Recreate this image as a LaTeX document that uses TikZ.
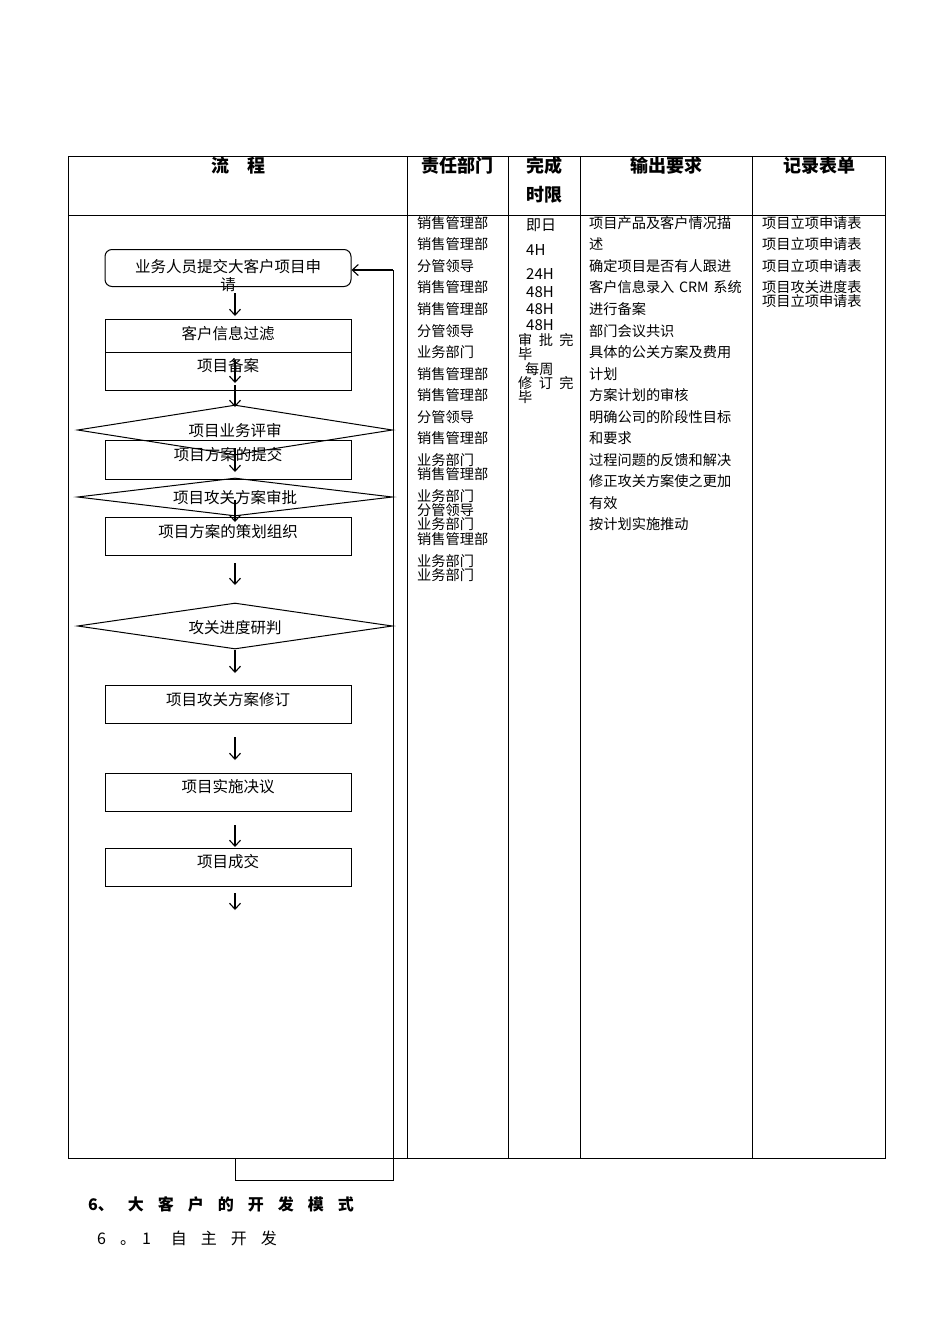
\documentclass[tikz,border=0pt]{standalone}
\usepackage{fontspec}
\setmainfont{Noto Sans CJK SC}
\usetikzlibrary{shapes.geometric,arrows.meta}
\begin{document}
\begin{tikzpicture}[x=1pt,y=-1pt,
  ln/.style={line width=0.8pt},
  ft/.style={font=\fontsize{15.5}{15.5}\selectfont},
  box/.style={draw,line width=1pt,minimum width=246pt,inner sep=0pt},
  dia/.style={draw,line width=1pt,diamond,aspect=6.5,minimum width=315pt,minimum height=50pt,inner sep=0pt},
  arr/.style={line width=1.1pt,-{Straight Barb[length=6pt,width=11pt]}},
  hd/.style={font=\bfseries\fontsize{18}{18}\selectfont},
  ct/.style={anchor=west,inner sep=0pt,font=\fontsize{14.2}{14.2}\selectfont},
  bt/.style={anchor=west,inner sep=0pt,font=\fontsize{16}{16}\selectfont}]
\useasboundingbox (0,0) rectangle (950,1344);
% table
\draw[ln] (68,156) rectangle (885,1158);
\draw[ln] (68,215) -- (885,215);
\foreach \x in {407,508,580,752} \draw[ln] (\x,156) -- (\x,1158);
\node[hd] (h1) at (238,166) {流\quad 程};
\node[hd] (h2) at (457,166) {责任部门};
\node[hd] (h3) at (544,166) {完成};
\node[hd] (h3b) at (544,195) {时限};
\node[hd] (h4) at (666,166) {输出要求};
\node[hd] (h5) at (819,166) {记录表单};
% flow
\node[box,rounded corners=7pt,minimum height=37pt] (s) at (228,268) {};
\node[ft] (st) at (228,267) {业务人员提交大客户项目申};
\node[ft] (st2) at (228,285) {请};
\node[box,minimum height=33pt] (b1) at (228,335.5) {};
\node[box,minimum height=38pt] (b2) at (228,371) {};
\node[ft] (t1) at (228,334) {客户信息过滤};
\node[ft] (t2) at (228,366) {项目备案};
\node[box,minimum height=39pt] (b3) at (228,459.5) {};
\node[dia] (d1) at (235,430) {};
\node[ft] (td1) at (235,431) {项目业务评审};
\node[ft] (t3) at (228,455) {项目方案的提交};
\node[dia,minimum height=38pt] (d2) at (235,497) {};
\node[ft] (td2) at (235,498) {项目攻关方案审批};
\node[box,minimum height=38pt,fill=white] (b4) at (228,536) {};
\node[ft] (t4) at (228,532) {项目方案的策划组织};
\node[dia,minimum height=46pt] (d3) at (235,626) {};
\node[ft] (td3) at (235,628) {攻关进度研判};
\node[box,minimum height=38pt] (b5) at (228,704.5) {};
\node[ft] (t5) at (228,700) {项目攻关方案修订};
\node[box,minimum height=38pt] (b6) at (228,792) {};
\node[ft] (t6) at (228,787) {项目实施决议};
\node[box,minimum height=38pt] (b7) at (228,867) {};
\node[ft] (t7) at (228,862) {项目成交};
\coordinate (a1) at (235,293); \coordinate (a1e) at (235,316);
\draw[arr] (a1) -- (a1e);
\draw[arr] (235,360) -- (235,383);
\draw[arr] (235,385) -- (235,407);
\draw[arr] (235,448) -- (235,472);
\draw[arr] (235,500) -- (235,522);
\draw[arr] (235,563) -- (235,585);
\draw[arr] (235,650) -- (235,673);
\draw[arr] (235,737) -- (235,760);
\draw[arr] (235,825) -- (235,847);
\draw[arr] (235,893) -- (235,910);
\coordinate (fb1) at (235,1158); \coordinate (fb2) at (235,1180); \coordinate (fb3) at (393,1180); \coordinate (fb4) at (393,270);
\draw[ln] (fb1) -- (fb2) -- (fb3) -- (fb4);
\draw[arr] (fb4) -- (s.east|-fb4);
% col 2
\foreach \y/\t in {223/销售管理部,244/销售管理部,266/分管领导,287/销售管理部,309/销售管理部,331/分管领导,352/业务部门,374/销售管理部,395/销售管理部,417/分管领导,438/销售管理部,460/业务部门,474/销售管理部,496/业务部门,510/分管领导,524/业务部门,539/销售管理部,561/业务部门,575/业务部门}
  \node[ct] at (417,\y) {\t};
% col 3
\foreach \y/\t in {225/即日,250/4H,274/24H,292/48H,309/48H,325/48H}
  \node[ct,font=\fontsize{15}{15}\selectfont] at (526,\y) {\t};
\node[ct] at (518,340) {审\ \ 批\ \ 完};
\node[ct] at (518,354) {毕};
\node[ct] at (525,369) {每周};
\node[ct] at (518,383) {修\ \ 订\ \ 完};
\node[ct] at (518,397) {毕};
% col 4
\foreach \y/\t in {223/项目产品及客户情况描,244/述,266/确定项目是否有人跟进,309/进行备案,331/部门会议共识,374/计划,395/方案计划的审核,438/和要求,460/过程问题的反馈和解决,503/有效,524/按计划实施推动}
  \node[ct] at (589,\y) {\t};
\foreach \y/\t in {287/客户信息录入 CRM 系统,352/具体的公关方案及费用,417/明确公司的阶段性目标,481/修正攻关方案使之更加}
  \node[ct,minimum width=155pt,align=left,text width=155pt] at (589,\y) {\t};
% col 5
\foreach \y/\t in {223/项目立项申请表,244/项目立项申请表,266/项目立项申请表,287/项目攻关进度表,301/项目立项申请表}
  \node[ct] at (762,\y) {\t};
% bottom
\node[bt,font=\bfseries\fontsize{16}{16}\selectfont] (p1) at (88,1204) {6、\hspace{14pt}大\hspace{14pt}客\hspace{14pt}户\hspace{14pt}的\hspace{14pt}开\hspace{14pt}发\hspace{14pt}模\hspace{14pt}式};
\node[bt] (p2) at (97,1238) {6\hspace{14pt}。\hspace{6pt}1\hspace{20pt}自\hspace{14pt}主\hspace{14pt}开\hspace{14pt}发};
\end{tikzpicture}
\end{document}
